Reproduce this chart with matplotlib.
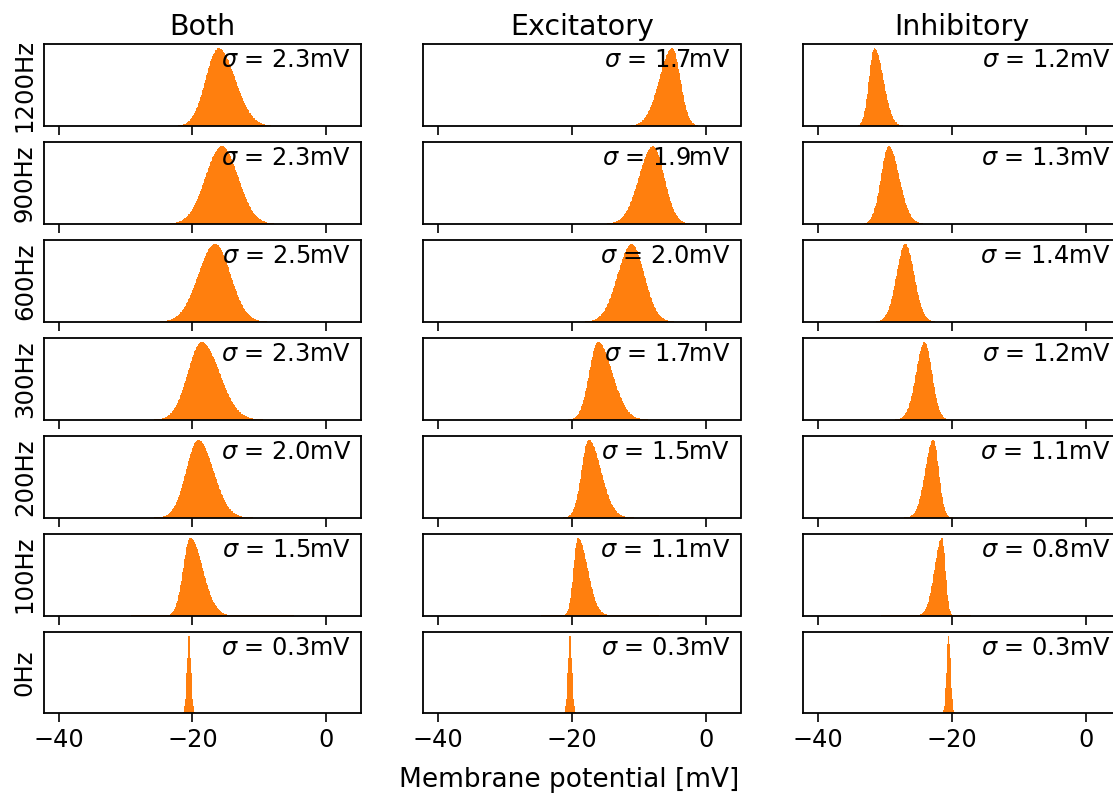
import numpy as np
import matplotlib
matplotlib.use("Agg")
import matplotlib.pyplot as plt

plt.rcParams['font.family'] = 'DejaVu Sans'
plt.rcParams['mathtext.fontset'] = 'dejavusans'

# panel layout: rows = input rate, columns = input type
columns = ["Both", "Excitatory", "Inhibitory"]
rates = ["1200Hz", "900Hz", "600Hz", "300Hz", "200Hz", "100Hz", "0Hz"]

# peak position of each histogram (mV)
peak_both = [-16.1, -15.6, -16.6, -18.6, -19.1, -20.3, -20.5]
peak_exc = [-5.0, -7.9, -11.1, -16.1, -17.5, -19.1, -20.3]
peak_inh = [-31.6, -29.5, -27.0, -24.1, -22.8, -21.5, -20.5]

# printed standard deviations (mV)
sigma_both = [2.3, 2.3, 2.5, 2.3, 2.0, 1.5, 0.3]
sigma_exc = [1.7, 1.9, 2.0, 1.7, 1.5, 1.1, 0.3]
sigma_inh = [1.2, 1.3, 1.4, 1.2, 1.1, 0.8, 0.3]

# asymmetry of each shape: left / right flank width relative to sigma
left_both = [0.82, 1.05, 1.0, 0.9, 0.91, 0.71, 1.0]
right_both = [1.08, 1.05, 0.92, 1.15, 1.12, 1.24, 1.0]
left_exc = [1.14, 1.1, 1.03, 0.77, 0.71, 0.6, 1.0]
right_exc = [0.71, 0.89, 0.95, 1.26, 1.24, 1.32, 1.0]
left_inh = [0.66, 0.88, 0.94, 1.06, 1.1, 1.38, 1.0]
right_inh = [1.09, 1.22, 0.96, 0.92, 0.75, 0.65, 1.0]

peaks = [peak_both, peak_exc, peak_inh]
sigmas = [sigma_both, sigma_exc, sigma_inh]
lefts = [left_both, left_exc, left_inh]
rights = [right_both, right_exc, right_inh]

edges = np.arange(-42.0, 5.0001, 0.1)
centers = 0.5 * (edges[:-1] + edges[1:])

W, H = 1113, 796
fig = plt.figure(figsize=(W / 100, H / 100), dpi=100)

col_left = [43.7, 423.3, 803.3]
col_w = 317.2
row_top0 = 44.3
row_step = 97.9
row_h = 81.7

orange = '#ff7f0e'

for c in range(3):
    for r in range(7):
        top = row_top0 + r * row_step
        ax = fig.add_axes([col_left[c] / W, 1 - (top + row_h) / H, col_w / W, row_h / H])
        mu = peaks[c][r]
        s = sigmas[c][r]
        sl = s * lefts[c][r]
        sr = s * rights[c][r]
        z = np.where(centers < mu, (centers - mu) / sl, (centers - mu) / sr)
        counts = np.exp(-0.5 * z ** 2)
        ax.stairs(counts, edges, fill=True, color=orange, linewidth=0)
        ax.set_xlim(-42.25, 5.2)
        ax.set_ylim(0, counts.max() * 1.05)
        ax.set_yticks([])
        ax.set_xticks([-40, -20, 0])
        ax.tick_params(axis='x', length=6.5, width=1.2, labelsize=17.3, pad=4)
        for sp in ax.spines.values():
            sp.set_linewidth(1.3)
        if r < 6:
            ax.set_xticklabels([])
        ax.annotate(r'$\sigma$ = %.1fmV' % s, xy=(1, 1), xycoords='axes fraction',
                    xytext=(-10, -4), textcoords='offset pixels',
                    ha='right', va='top', fontsize=17.3)
        if r == 0:
            ax.set_title(columns[c], fontsize=20.5, pad=7)
        if c == 0:
            ax.set_ylabel(rates[r], fontsize=17.6, labelpad=5)

fig.text(569 / W, 1 - 780 / H, 'Membrane potential [mV]', ha='center', va='center', fontsize=19)

fig.savefig('out.png', dpi=100, facecolor='white')
